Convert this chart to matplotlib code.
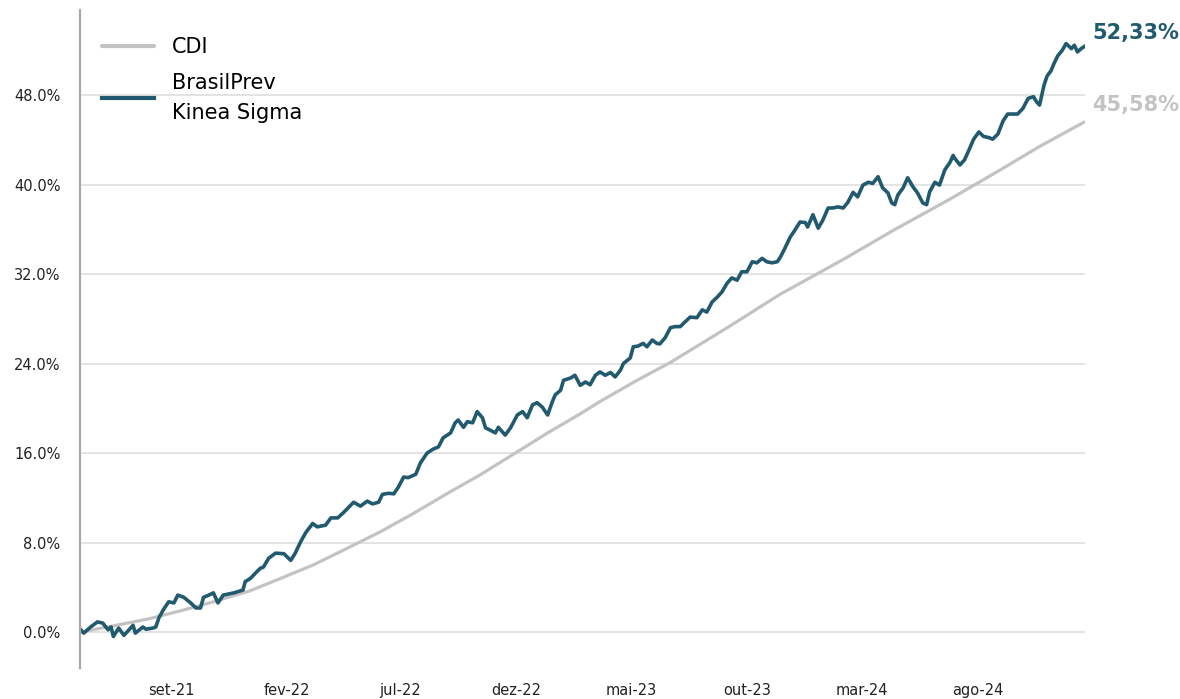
import matplotlib
matplotlib.use("Agg")
import matplotlib.pyplot as plt
import pandas as pd

plt.rcParams['font.family'] = ['DejaVu Sans']

# data: day offsets from the first date and cumulative return (%)
start = pd.Timestamp("2021-05-05")

kinea_days = [0, 4, 13, 22, 29, 36, 40, 43, 50, 57, 69, 72, 82, 86, 95, 99, 103, 109, 116,
              123, 128, 136, 145, 152, 158, 162, 169, 175, 181, 188, 202, 214, 217, 224, 231,
              237, 241, 248, 257, 268, 277, 283, 290, 297, 306, 312, 323, 330, 339, 347, 360,
              369, 378, 385, 393, 398, 406, 413, 419, 426, 432, 442, 448, 457, 465, 472, 478,
              488, 494, 498, 505, 510, 517, 523, 530, 534, 540, 547, 551, 560, 567, 576, 583,
              589, 596, 602, 609, 616, 622, 626, 633, 637, 646, 652, 659, 666, 672, 679, 685,
              692, 699, 705, 712, 716, 725, 729, 735, 742, 747, 754, 760, 764, 771, 778, 784,
              791, 797, 804, 813, 820, 826, 833, 840, 846, 853, 859, 866, 872, 879, 886, 892,
              899, 905, 912, 919, 923, 929, 936, 942, 949, 956, 959, 966, 973, 979, 986, 992,
              999, 1006, 1012, 1019, 1025, 1032, 1039, 1045, 1052, 1058, 1065, 1070, 1074,
              1078, 1085, 1091, 1098, 1104, 1111, 1116, 1120, 1127, 1133, 1140, 1147, 1151,
              1153, 1157, 1160, 1166, 1172, 1178, 1185, 1191, 1198, 1203, 1210, 1217, 1223,
              1230, 1236, 1243, 1250, 1257, 1261, 1265, 1271, 1275, 1280, 1284, 1289, 1295,
              1300, 1307, 1311, 1315, 1320, 1324]
kinea_vals = [0.2, -0.1, 0.45, 0.9, 0.8, 0.2, 0.45, -0.4, 0.35, -0.3, 0.6, -0.1, 0.45, 0.25,
              0.35, 0.45, 1.25, 2.0, 2.7, 2.6, 3.3, 3.1, 2.6, 2.15, 2.15, 3.1, 3.3, 3.5, 2.6,
              3.3, 3.5, 3.75, 4.5, 4.8, 5.3, 5.7, 5.8, 6.6, 7.05, 7.0, 6.4, 7.05, 8.05, 8.9,
              9.7, 9.4, 9.55, 10.2, 10.2, 10.7, 11.6, 11.25, 11.7, 11.45, 11.6, 12.3, 12.4,
              12.35, 12.95, 13.85, 13.8, 14.1, 15.1, 16.0, 16.35, 16.55, 17.35, 17.8, 18.7,
              18.95, 18.3, 18.8, 18.7, 19.7, 19.15, 18.25, 18.05, 17.8, 18.3, 17.6, 18.25,
              19.4, 19.7, 19.15, 20.3, 20.5, 20.1, 19.4, 20.55, 21.2, 21.6, 22.5, 22.7, 22.95,
              22.05, 22.35, 22.1, 22.95, 23.25, 22.95, 23.2, 22.8, 23.4, 24.0, 24.5, 25.5,
              25.55, 25.8, 25.5, 26.1, 25.8, 25.75, 26.3, 27.2, 27.3, 27.3, 27.7, 28.15, 28.1,
              28.8, 28.6, 29.5, 29.95, 30.4, 31.2, 31.65, 31.45, 32.2, 32.2, 33.1, 33.0, 33.4,
              33.1, 33.0, 33.1, 33.5, 34.3, 35.3, 35.9, 36.65, 36.6, 36.2, 37.3, 36.1, 36.8,
              37.9, 37.9, 38.0, 37.9, 38.4, 39.3, 38.9, 39.95, 40.2, 40.1, 40.7, 39.7, 39.25,
              38.35, 38.2, 39.05, 39.7, 40.6, 39.8, 39.25, 38.35, 38.2, 39.35, 40.2, 39.95,
              41.3, 42.0, 42.6, 42.35, 42.0, 41.75, 42.2, 43.1, 44.05, 44.7, 44.3, 44.2, 44.05,
              44.5, 45.7, 46.3, 46.3, 46.3, 46.8, 47.7, 47.85, 47.4, 47.1, 48.9, 49.7, 50.15,
              50.8, 51.5, 52.0, 52.6, 52.15, 52.45, 51.85, 52.15, 52.33]

cdi_days = [0, 43, 88, 132, 175, 224, 264, 307, 352, 395, 439, 484, 527, 571, 616, 659,
            685, 734, 778, 853, 923, 1006, 1072, 1147, 1213, 1265, 1324]
cdi_vals = [0.0, 0.55, 1.15, 1.9, 2.7, 3.7, 4.8, 6.0, 7.5, 8.95, 10.6, 12.4, 14.05, 15.9,
            17.8, 19.5, 20.6, 22.5, 24.1, 27.2, 30.2, 33.3, 35.9, 38.7, 41.3, 43.4, 45.58]

tick_dates = ["2021-09-01", "2022-02-01", "2022-07-01", "2022-12-01",
              "2023-05-01", "2023-10-01", "2024-03-01", "2024-08-01"]
tick_labels = ["set-21", "fev-22", "jul-22", "dez-22", "mai-23", "out-23", "mar-24", "ago-24"]

kinea_x = start + pd.to_timedelta(kinea_days, unit="D")
cdi_x = start + pd.to_timedelta(cdi_days, unit="D")

teal = "#215a6e"
gray = "#c3c3c3"

fig = plt.figure(figsize=(11.8, 6.99), dpi=100)
ax = fig.add_axes([0.0678, 0.0443, 0.8517, 0.9414])

ax.plot(cdi_x, cdi_vals, color=gray, lw=2.3, label="CDI", solid_capstyle="round")
ax.plot(kinea_x, kinea_vals, color=teal, lw=2.6, label="BrasilPrev\nKinea Sigma",
        solid_joinstyle="round")

ax.set_ylim(-3.22, 55.6)
ax.set_xlim(start - pd.Timedelta(days=1), start + pd.Timedelta(days=1325))

ax.set_yticks([0, 8, 16, 24, 32, 40, 48])
ax.set_yticklabels(["%.1f%%" % v for v in [0, 8, 16, 24, 32, 40, 48]])
ax.set_xticks(pd.to_datetime(tick_dates))
ax.set_xticklabels(tick_labels)
ax.tick_params(axis="y", length=0, pad=14, labelsize=10.5, labelcolor="#222222")
ax.tick_params(axis="x", length=0, pad=11, labelsize=10.5, labelcolor="#222222")

ax.grid(axis="y", color="#e3e3e3", lw=1.4)
ax.set_axisbelow(True)
for s in ["top", "right", "bottom"]:
    ax.spines[s].set_visible(False)
ax.spines["left"].set_color("#a8a8a8")
ax.spines["left"].set_linewidth(1.6)

ax.annotate("52,33%", xy=(kinea_x[-1], kinea_vals[-1]), xytext=(6, 10),
            textcoords="offset points", color=teal, fontsize=15, fontweight="bold",
            va="center", ha="left", annotation_clip=False)
ax.annotate("45,58%", xy=(cdi_x[-1], cdi_vals[-1]), xytext=(6, 12),
            textcoords="offset points", color=gray, fontsize=15, fontweight="bold",
            va="center", ha="left", annotation_clip=False)

leg = ax.legend(loc="upper left", bbox_to_anchor=(0.003, 0.987), frameon=False,
                fontsize=15, handlelength=2.5, handletextpad=0.85, labelspacing=0.75)
for line in leg.get_lines():
    line.set_linewidth(3)
for t in leg.get_texts():
    t.set_linespacing(1.6)

fig.savefig("out.png", dpi=100)
